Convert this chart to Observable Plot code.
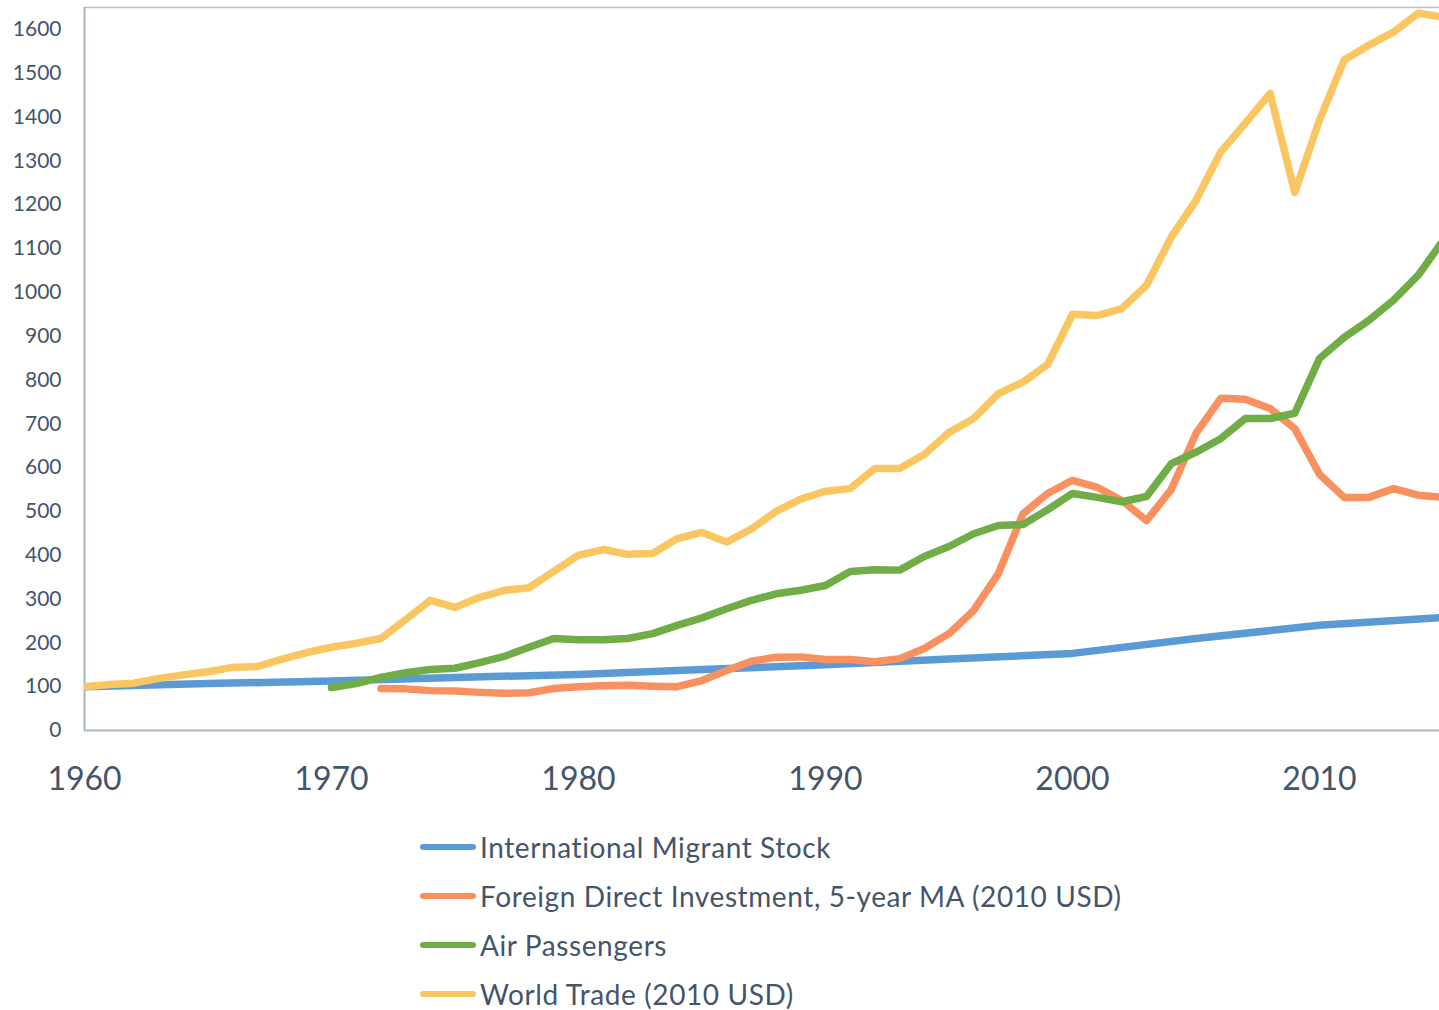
<!DOCTYPE html>
<html>
<head>
<meta charset="utf-8">
<script src="https://cdn.jsdelivr.net/npm/d3@7"></script>
<script src="https://cdn.jsdelivr.net/npm/@observablehq/plot@0.6"></script>
<style>
  html, body { margin: 0; padding: 0; background: #fff; }
  body { width: 1439px; height: 1010px; overflow: hidden; font-family: Lato, "Open Sans", sans-serif; }
  #legend { margin-top: 12px; margin-left: 420px; }
  .row { height: 49px; display: flex; align-items: center; }
  .sw { width: 56px; height: 6px; border-radius: 3px; margin-right: 4px; }
  .lab { font-size: 28px; letter-spacing: 0.6px; color: #44546A; white-space: nowrap; }
</style>
</head>
<body>
<div id="chart"></div>
<div id="legend"></div>
<script>
const seriesNames = [
  "International Migrant Stock",
  "Foreign Direct Investment, 5-year MA (2010 USD)",
  "Air Passengers",
  "World Trade (2010 USD)"
];
const seriesColors = ["#5B9BD5", "#F8915F", "#70AD47", "#FAC662"];

const migrantYears = [1960, 1965, 1970, 1975, 1980, 1985, 1990, 1995, 2000, 2005, 2010, 2015];
const migrantValues = [100, 107, 113, 121, 128, 139, 150, 163, 176, 210, 240, 258];

const fdiStart = 1972;
const fdiValues = [96, 95, 91, 90, 87, 85, 86, 96, 100, 102, 103, 101, 100, 114, 137, 158, 167, 168, 162, 162,
  157, 164, 187, 221, 274, 358, 495, 541, 571, 555, 525, 479, 550, 678, 758, 756, 735, 689, 585, 532,
  532, 552, 537, 532];

const airStart = 1970;
const airValues = [98, 107, 121, 132, 139, 142, 155, 169, 190, 210, 207, 207, 210, 221, 240, 257, 278, 297, 312, 320,
  331, 363, 367, 366, 397, 420, 449, 468, 470, 504, 541, 532, 522, 534, 609, 635, 666, 712, 712, 724,
  849, 897, 936, 982, 1039, 1118];

const tradeStart = 1960;
const tradeValues = [100, 105, 108, 119, 127, 134, 144, 146, 163, 178, 190, 199, 210, 253, 297, 281, 304, 320, 326, 363,
  400, 413, 402, 404, 438, 452, 430, 460, 500, 528, 546, 552, 598, 598, 630, 680, 712, 769, 795, 836,
  950, 947, 963, 1016, 1126, 1210, 1320, 1386, 1454, 1228, 1393, 1530, 1564, 1594, 1637, 1628];

const yTicks = d3.range(0, 1601, 100);
const xTicks = [1960, 1970, 1980, 1990, 2000, 2010];

const data = [];
migrantYears.forEach((y, i) => data.push({year: y, value: migrantValues[i], series: seriesNames[0]}));
fdiValues.forEach((v, i) => data.push({year: fdiStart + i, value: v, series: seriesNames[1]}));
airValues.forEach((v, i) => data.push({year: airStart + i, value: v, series: seriesNames[2]}));
tradeValues.forEach((v, i) => data.push({year: tradeStart + i, value: v, series: seriesNames[3]}));

const xMax = 2014.86;
const yMax = 1650;

const chart = Plot.plot({
  width: 1439,
  height: 810,
  marginLeft: 84,
  marginRight: 0,
  marginTop: 7,
  marginBottom: 80,
  style: {fontFamily: "Lato, 'Open Sans', sans-serif", color: "#44546A", background: "#fff"},
  x: {domain: [1960, xMax], label: null},
  y: {domain: [0, yMax], label: null},
  color: {domain: seriesNames, range: seriesColors},
  marks: [
    Plot.ruleY([yMax], {stroke: "#BFBFBF", strokeWidth: 1.5}),
    Plot.axisY({ticks: yTicks, tickSize: 0, tickPadding: 23, fontSize: 21, label: null, tickFormat: d => String(d), fill: "#44546A"}),
    Plot.axisX({ticks: xTicks, tickSize: 0, tickPadding: 37, fontSize: 32, label: null, tickFormat: d => String(d), fill: "#44546A"}),
    Plot.ruleX([1960], {stroke: "#A9B4C4", strokeWidth: 2}),
    Plot.ruleY([0], {stroke: "#A9B4C4", strokeWidth: 2}),
    Plot.line(data, {x: "year", y: "value", z: "series", stroke: "series", strokeWidth: 7.5,
      strokeLinecap: "round", strokeLinejoin: "round", clip: true})
  ]
});
document.getElementById("chart").appendChild(chart);

const legend = document.getElementById("legend");
seriesNames.forEach((name, i) => {
  const row = document.createElement("div");
  row.className = "row";
  const sw = document.createElement("div");
  sw.className = "sw";
  sw.style.background = seriesColors[i];
  const lab = document.createElement("span");
  lab.className = "lab";
  lab.textContent = name;
  row.appendChild(sw);
  row.appendChild(lab);
  legend.appendChild(row);
});
</script>
</body>
</html>
